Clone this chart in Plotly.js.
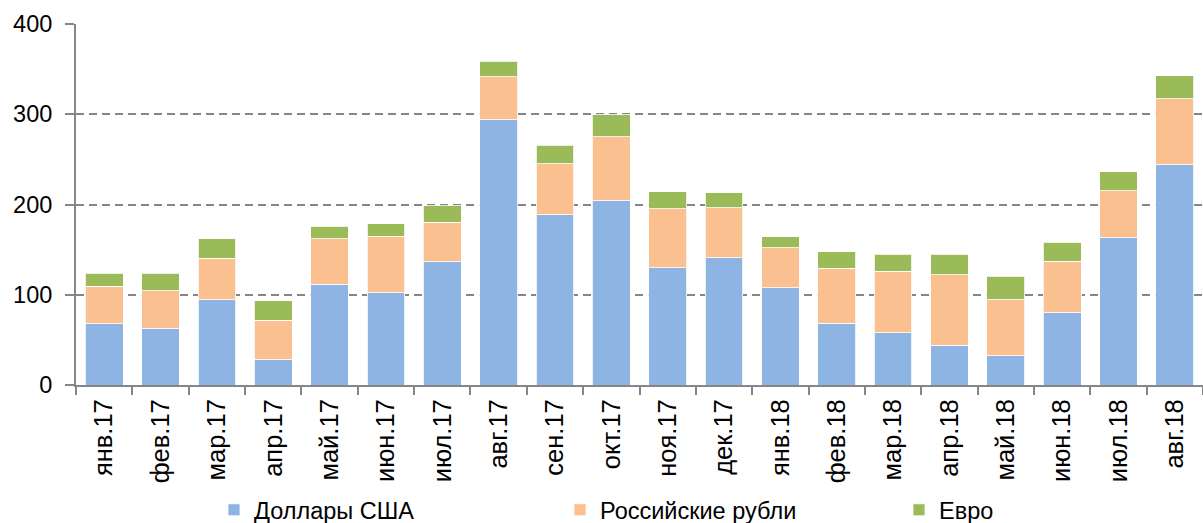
<!DOCTYPE html>
<html>
<head>
<meta charset="utf-8">
<script src="https://cdn.plot.ly/plotly-3.0.1.min.js"></script>
<style>html,body{margin:0;padding:0;background:#fff;}#chart{width:1203px;height:523px;}</style>
</head>
<body>
<div id="chart"></div>
<script>
const categories = ["янв.17","фев.17","мар.17","апр.17","май.17","июн.17","июл.17","авг.17","сен.17","окт.17","ноя.17","дек.17","янв.18","фев.18","мар.18","апр.18","май.18","июн.18","июл.18","авг.18"];
const usd = [67.6, 62.4, 94.6, 28.1, 111.6, 102.0, 136.3, 294.1, 188.8, 204.3, 130.0, 141.1, 107.9, 68.3, 58.0, 44.3, 32.5, 79.8, 163.3, 244.2];
const rub = [42.1, 41.8, 45.8, 43.9, 50.6, 63.1, 44.3, 47.2, 56.5, 70.5, 65.4, 55.1, 44.3, 61.0, 68.3, 77.6, 62.1, 57.6, 52.1, 72.8];
const eur = [14.4, 19.9, 21.4, 21.1, 13.6, 13.3, 18.1, 17.4, 20.3, 24.4, 18.9, 17.0, 11.8, 18.5, 18.5, 22.9, 25.8, 20.7, 20.7, 25.4];
const seriesNames = ["Доллары США", "Российские рубли", "Евро"];
const colors = ["#8EB4E3", "#FAC090", "#9BBB59"];
const yTicks = [0, 100, 200, 300, 400];

const font = "Liberation Sans, Arial, sans-serif";
const legendIds = ["legend", "legend2", "legend3"];
const traces = [usd, rub, eur].map((vals, i) => ({
  type: "bar",
  x: categories,
  y: vals,
  name: seriesNames[i],
  legend: legendIds[i],
  marker: {color: colors[i], line: {color: "rgba(255,255,255,0.8)", width: 1}},
  hoverinfo: "x+y+name"
}));

const W = 1203, H = 523;
function legendAt(px) {
  return {
    orientation: "h",
    xref: "container", yref: "container",
    x: px / W, xanchor: "left",
    y: (H - 510) / H, yanchor: "middle",
    bgcolor: "rgba(0,0,0,0)",
    font: {size: 23.5, family: font, color: "#000"},
    itemwidth: 30
  };
}

const layout = {
  width: W,
  height: H,
  margin: {l: 76, r: 0, t: 24, b: 138},
  barmode: "stack",
  bargap: 0.33,
  paper_bgcolor: "#fff",
  plot_bgcolor: "#fff",
  font: {family: font, color: "#000"},
  showlegend: true,
  legend: legendAt(214),
  legend2: legendAt(560),
  legend3: legendAt(899),
  xaxis: {
    type: "category",
    tickangle: -90,
    tickfont: {size: 25.5, family: font, color: "#000"},
    ticklabelstandoff: 2,
    showline: true, linecolor: "#868686", linewidth: 2,
    ticks: "outside", tickson: "boundaries", ticklen: 8, tickcolor: "#868686", tickwidth: 2,
    showgrid: false,
    fixedrange: true
  },
  yaxis: {
    range: [0, 400],
    tickvals: yTicks,
    ticktext: yTicks.map(String),
    tickfont: {size: 23.5, family: font, color: "#000"},
    ticklabelstandoff: 8,
    showline: true, linecolor: "#868686", linewidth: 2,
    ticks: "outside", ticklen: 9, tickcolor: "#868686", tickwidth: 2,
    showgrid: true, gridcolor: "#868686", gridwidth: 2, griddash: "8px,5px",
    zeroline: false,
    fixedrange: true
  }
};

Plotly.newPlot("chart", traces, layout, {displayModeBar: false, staticPlot: true});
</script>
</body>
</html>
